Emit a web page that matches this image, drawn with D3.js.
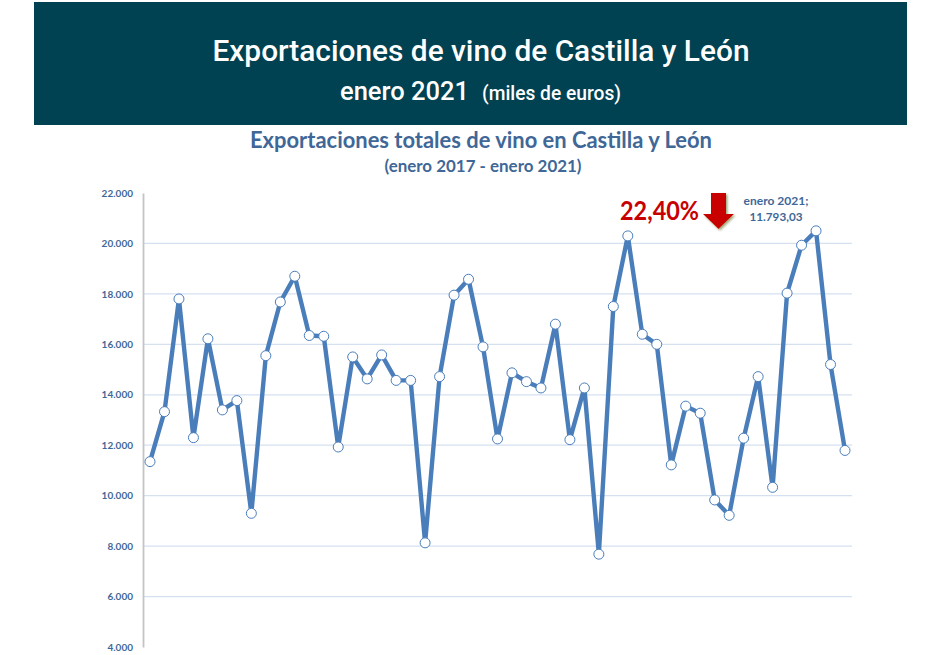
<!DOCTYPE html>
<html lang="es">
<head>
<meta charset="utf-8">
<script src="https://cdn.jsdelivr.net/npm/d3@7/dist/d3.min.js"></script>
<style>
html,body{margin:0;padding:0;background:#fff}
svg{display:block}
.tick-label{font-family:Lato,sans-serif;font-weight:700;font-size:10px;fill:#3f6797}
</style>
</head>
<body>
<svg id="c" width="948" height="655"></svg>
<script>
const bannerTitle = "Exportaciones de vino de Castilla y León";
const bannerSubA = "enero 2021";
const bannerSubB = "(miles de euros)";
const chartTitle = "Exportaciones totales de vino en Castilla y León";
const chartSubtitle = "(enero 2017 - enero 2021)";
const changeLabel = "22,40%";
const lastLabel = ["enero 2021;", "11.793,03"];
const yTicks = [4000,6000,8000,10000,12000,14000,16000,18000,20000,22000];
const months = d3.range(49);
const values = [11350,13330,17800,12300,16220,13400,13770,9300,15550,17680,18700,16350,16320,
  11930,15500,14630,15580,14570,14570,8130,14720,17950,18580,15900,12250,14870,14520,14270,
  16800,12220,14270,7680,17500,20300,16400,16000,11220,13550,13270,9830,9220,12280,14720,
  10330,18030,19930,20500,15200,11793.03];

const svg = d3.select("#c");
const x = d3.scaleLinear().domain([0,48]).range([150,845]);
const y = d3.scaleLinear().domain([4000,22000]).range([647,193]);

// banner
svg.append("rect").attr("x",34).attr("y",2).attr("width",873).attr("height",123).attr("fill","#004152");
svg.append("text").attr("x",481).attr("y",61).attr("text-anchor","middle")
  .attr("font-family","Roboto,sans-serif").attr("font-size",29.5).attr("font-weight",500).attr("fill","#fff")
  .attr("textLength",537).attr("lengthAdjust","spacingAndGlyphs").text(bannerTitle);
svg.append("text").attr("x",340).attr("y",100)
  .attr("font-family","Roboto,sans-serif").attr("font-size",25.5).attr("font-weight",500).attr("fill","#fff")
  .attr("textLength",129).attr("lengthAdjust","spacingAndGlyphs").text(bannerSubA);
svg.append("text").attr("x",482).attr("y",100)
  .attr("font-family","Roboto,sans-serif").attr("font-size",19.5).attr("font-weight",500).attr("fill","#fff")
  .attr("textLength",139).attr("lengthAdjust","spacingAndGlyphs").text(bannerSubB);

// chart titles
svg.append("text").attr("x",481).attr("y",148).attr("text-anchor","middle")
  .attr("font-family","Lato,sans-serif").attr("font-weight",700).attr("font-size",22.5).attr("fill","#3f6797")
  .attr("textLength",462).attr("lengthAdjust","spacingAndGlyphs").text(chartTitle);
svg.append("text").attr("x",483).attr("y",172).attr("text-anchor","middle")
  .attr("font-family","Lato,sans-serif").attr("font-weight",700).attr("font-size",17).attr("fill","#3f6797")
  .attr("textLength",197).attr("lengthAdjust","spacingAndGlyphs").text(chartSubtitle);

// gridlines
svg.append("g").selectAll("line").data(yTicks.filter(d=>d>4000&&d<22000)).join("line")
  .attr("x1",144).attr("x2",852).attr("y1",d=>y(d)).attr("y2",d=>y(d))
  .attr("stroke","#d5e1f0").attr("stroke-width",1.3);

// y axis
const yAxis = svg.append("g").attr("transform","translate(143,0)")
  .call(d3.axisLeft(y).tickValues(yTicks).tickSize(0).tickPadding(10)
    .tickFormat(d=>d3.format(",")(d).replace(/,/g,".")));
yAxis.select(".domain").attr("stroke","#c4c4c4").attr("stroke-width",1.8);
yAxis.selectAll("text").attr("class","tick-label").attr("font-family",null).attr("font-size",null);

// line
const line = d3.line().x((d,i)=>x(months[i])).y(d=>y(d));
svg.append("path").datum(values).attr("d",line).attr("fill","none")
  .attr("stroke","#4a7ebb").attr("stroke-width",4.4).attr("stroke-linejoin","round");
svg.append("g").selectAll("circle").data(values).join("circle")
  .attr("cx",(d,i)=>x(months[i])).attr("cy",d=>y(d)).attr("r",5)
  .attr("fill","#fff").attr("stroke","#4a7ebb").attr("stroke-width",1);

// annotation
svg.append("text").attr("x",620).attr("y",219.5)
  .attr("font-family","Lato,sans-serif").attr("font-weight",700).attr("font-size",27).attr("fill","#c80000")
  .attr("textLength",79).attr("lengthAdjust","spacingAndGlyphs").text(changeLabel);
const defs = svg.append("defs");
const f = defs.append("filter").attr("id","sh").attr("x","-30%").attr("y","-30%").attr("width","170%").attr("height","170%");
f.append("feDropShadow").attr("dx",1.5).attr("dy",1.5).attr("stdDeviation",1.2).attr("flood-color","#6f7f3a").attr("flood-opacity",0.7);
svg.append("path")
  .attr("d","M711,193H726V214H734L718.5,229L703,214H711Z")
  .attr("fill","#c80000").attr("filter","url(#sh)");
lastLabel.forEach((t,i)=>{
  svg.append("text").attr("x",776).attr("y",205+i*16).attr("text-anchor","middle")
    .attr("font-family","Lato,sans-serif").attr("font-weight",700).attr("font-size",11.5).attr("fill","#3f6797")
    .attr("textLength",i===0?65:53).attr("lengthAdjust","spacingAndGlyphs").text(t);
});
</script>
</body>
</html>
